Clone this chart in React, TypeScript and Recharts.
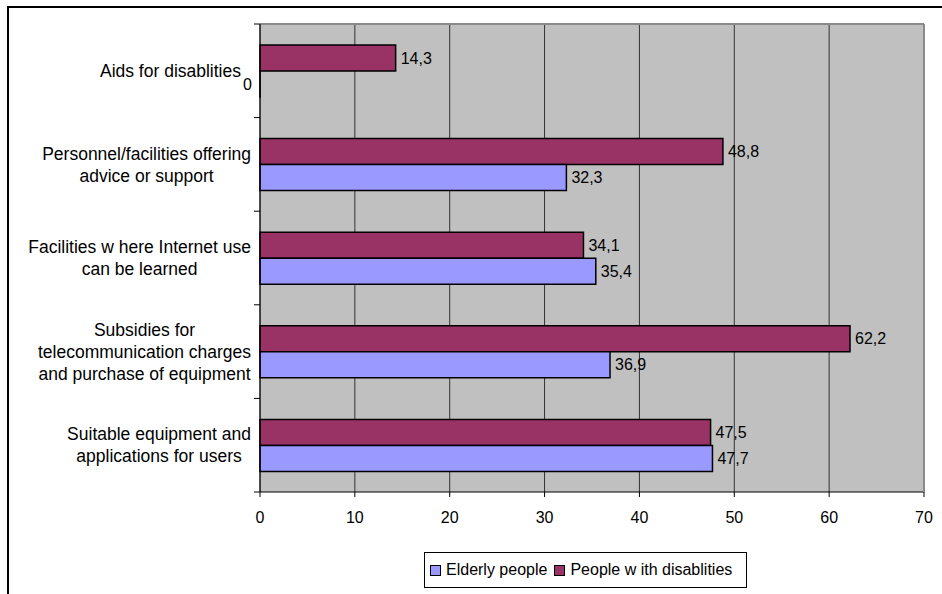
import { BarChart, Bar, XAxis, YAxis, CartesianGrid, LabelList } from 'recharts'

const FONT = '"Liberation Sans", Arial, sans-serif'

const categories = [
  'Aids for disablities',
  'Personnel/facilities offering\nadvice or support',
  'Facilities w here Internet use\ncan be learned',
  'Subsidies for\ntelecommunication charges\nand purchase of equipment',
  'Suitable equipment and\napplications for users',
]
const elderly = [0, 32.3, 35.4, 36.9, 47.7]
const disabled = [14.3, 48.8, 34.1, 62.2, 47.5]
const xTicks = [0, 10, 20, 30, 40, 50, 60, 70]

const series = [
  { key: 'elderly', name: 'Elderly people', color: '#9999ff' },
  { key: 'disabled', name: 'People w ith disablities', color: '#993366' },
]

const data = categories.map((name, i) => ({ name, elderly: elderly[i], disabled: disabled[i] }))

const CAT_SIZE = 17.5

let ctx: CanvasRenderingContext2D | null = null
function textWidth(s: string) {
  if (!ctx) ctx = document.createElement('canvas').getContext('2d')
  if (!ctx) return s.length * 8
  ctx.font = `${CAT_SIZE}px ${FONT}`
  return ctx.measureText(s).width
}

const fmt = (v: number) => (v === 0 ? '0' : v.toFixed(1).replace('.', ','))

// category label block: lines centred on each other, block right-aligned to the axis
function CategoryTick(props: any) {
  const { x, y, payload, index } = props
  const half = payload?.offset ?? 46.8
  const lines = String(payload.value).split('\n')
  const block = Math.max(...lines.map(textWidth))
  // a zero bar puts its "0" label left of the axis, so make room for it
  const row = data[index]
  const shift = row && series.some((s) => (row as any)[s.key] === 0) ? 10 : 0
  const cx = x - shift - block / 2
  const lh = 22
  const top = y - ((lines.length - 1) * lh) / 2
  return (
    <g>
      {index === 0 && <line x1={x + 3} x2={x + 9} y1={y - half} y2={y - half} stroke='#000' />}
      <line x1={x + 3} x2={x + 9} y1={y + half} y2={y + half} stroke='#000' />
      <text textAnchor='middle' fontSize={CAT_SIZE} fill='#000' fontFamily={FONT}>
        {lines.map((l, i) => (
          <tspan key={i} x={cx} y={top + i * lh} dy='0.35em'>
            {l}
          </tspan>
        ))}
      </text>
    </g>
  )
}

function ValueLabel(props: any) {
  const { x, y, width, height, value } = props
  const v = Number(value)
  const zero = v === 0
  return (
    <text
      x={zero ? x - 8 : x + width + 5}
      y={y + height / 2}
      dy='0.35em'
      textAnchor={zero ? 'end' : 'start'}
      fontSize={16}
      fontFamily={FONT}
      fill='#000'
    >
      {fmt(v)}
    </text>
  )
}

export default function App() {
  return (
    <div style={{ position: 'fixed', left: 0, top: 0, width: 942, height: 594, overflow: 'hidden', background: '#fff' }}>
      <div
        style={{
          position: 'absolute',
          left: 7,
          top: 6,
          width: 2000,
          height: 2000,
          borderTop: '2px solid #000',
          borderLeft: '2px solid #000',
        }}
      />
      <div style={{ position: 'absolute', left: 0, top: 0 }}>
        <BarChart
          width={942}
          height={594}
          data={data}
          layout='vertical'
          margin={{ top: 23, right: 17, bottom: 72, left: 0 }}
          barSize={26}
          barGap={0}
        >
          <CartesianGrid horizontal={false} stroke='#333' fill='#c0c0c0' />
          <XAxis
            type='number'
            domain={[0, 70]}
            ticks={xTicks}
            interval={0}
            height={30}
            tickSize={5}
            tickMargin={15}
            axisLine={{ stroke: '#000' }}
            tickLine={{ stroke: '#000' }}
            tick={{ fill: '#000', fontSize: 16, fontFamily: FONT }}
          />
          <XAxis
            xAxisId='top'
            orientation='top'
            type='number'
            domain={[0, 70]}
            height={1}
            tick={false}
            tickLine={false}
            axisLine={{ stroke: '#8a8a8a', strokeWidth: 2 }}
          />
          <YAxis
            type='category'
            dataKey='name'
            width={260}
            interval={0}
            tickLine={false}
            tickSize={0}
            tickMargin={9}
            axisLine={{ stroke: '#000' }}
            tick={<CategoryTick />}
          />
          <YAxis
            yAxisId='right'
            orientation='right'
            type='category'
            dataKey='name'
            width={1}
            tick={false}
            tickLine={false}
            axisLine={{ stroke: '#8a8a8a', strokeWidth: 2 }}
          />
          {[...series].reverse().map((s) => (
            <Bar
              key={s.key}
              dataKey={s.key}
              name={s.name}
              fill={s.color}
              stroke='#000'
              strokeWidth={1.5}
              minPointSize={0.01}
              isAnimationActive={false}
            >
              <LabelList dataKey={s.key} content={<ValueLabel />} />
            </Bar>
          ))}
        </BarChart>
      </div>
      <div
        style={{
          position: 'absolute',
          left: 424,
          top: 552,
          width: 323,
          height: 36,
          boxSizing: 'border-box',
          border: '1px solid #000',
          background: '#fff',
          display: 'flex',
          alignItems: 'center',
          paddingLeft: 5,
          fontFamily: FONT,
          fontSize: 16,
          color: '#000',
          whiteSpace: 'nowrap',
        }}
      >
        {series.map((s) => (
          <div key={s.key} style={{ display: 'flex', alignItems: 'center', marginRight: 7 }}>
            <span
              style={{
                display: 'inline-block',
                width: 11,
                height: 11,
                boxSizing: 'border-box',
                border: '1px solid #000',
                background: s.color,
                marginRight: 5,
              }}
            />
            <span>{s.name}</span>
          </div>
        ))}
      </div>
    </div>
  )
}
